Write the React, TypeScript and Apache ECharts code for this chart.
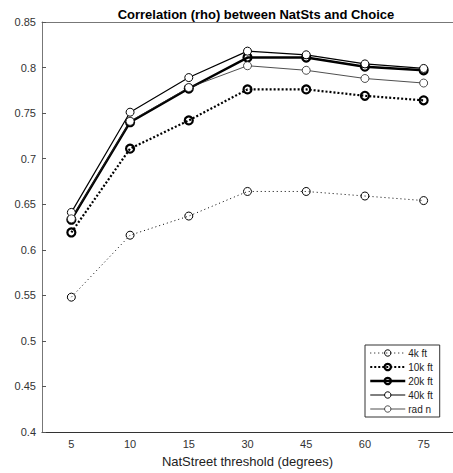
import React, { useEffect, useRef } from "react";
import * as echarts from "echarts";

const categories = ["5", "10", "15", "30", "45", "60", "75"];
const s4k = [0.548, 0.616, 0.637, 0.664, 0.664, 0.659, 0.654];
const s10k = [0.619, 0.711, 0.742, 0.776, 0.776, 0.769, 0.764];
const s20k = [0.633, 0.740, 0.777, 0.811, 0.811, 0.801, 0.797];
const s40k = [0.641, 0.751, 0.789, 0.818, 0.814, 0.804, 0.799];
const sRadN = [0.634, 0.741, 0.778, 0.802, 0.797, 0.788, 0.783];
const seriesNames = ["4k ft", "10k ft", "20k ft", "40k ft", "rad n"];

export default function App() {
  const ref = useRef<HTMLDivElement>(null);
  useEffect(() => {
    if (!ref.current) return;
    const chart = echarts.init(ref.current, null, { renderer: "svg" });
    const font = "Liberation Sans, Arial, Helvetica, sans-serif";
    const styles = [
      { width: 1, type: [1, 3], border: 1, fill: "rgba(255,255,255,0)", color: "#000" },
      { width: 2.2, type: [2, 2], border: 2.2, fill: "rgba(255,255,255,0)", color: "#000" },
      { width: 2.5, type: "solid", border: 2.2, fill: "rgba(255,255,255,0)", color: "#000" },
      { width: 1.2, type: "solid", border: 1, fill: "#fff", color: "#000" },
      { width: 0.8, type: "solid", border: 0.8, fill: "#fff", color: "#222" },
    ];
    const datas = [s4k, s10k, s20k, s40k, sRadN];
    chart.setOption({
      animation: false,
      backgroundColor: "#fff",
      textStyle: { fontFamily: font },
      title: {
        text: "Correlation (rho) between NatSts and Choice",
        left: 251,
        top: 3,
        textAlign: "center",
        textStyle: { fontSize: 13, fontWeight: "bold", color: "#000", fontFamily: font },
      },
      legend: {
        orient: "vertical",
        left: 365,
        top: 345,
        padding: [3, 7, 3, 4],
        itemWidth: 35,
        itemHeight: 8,
        itemGap: 4,
        borderColor: "#333",
        borderWidth: 1,
        backgroundColor: "#fff",
        textStyle: { fontSize: 10, color: "#222", fontFamily: font, padding: [0, 0, 0, -2] },
        data: seriesNames.map((n, i) => ({
          name: n,
          lineStyle: { width: styles[i].width, type: styles[i].type, color: styles[i].color },
          itemStyle: {
            color: styles[i].fill,
            borderColor: styles[i].color,
            borderWidth: styles[i].border,
          },
        })),
      },
      grid: { left: 42, top: 22, width: 419, height: 413 },
      xAxis: [
        {
          type: "category",
          data: categories,
          boundaryGap: true,
          position: "bottom",
          name: "NatStreet threshold (degrees)",
          nameLocation: "middle",
          nameGap: 23,
          nameTextStyle: { fontSize: 13, color: "#222", fontFamily: font },
          axisLine: { lineStyle: { color: "#333", width: 1 } },
          axisTick: { inside: true, alignWithLabel: true, length: 4, lineStyle: { color: "#333" } },
          axisLabel: { fontSize: 11, color: "#333", margin: 6, fontFamily: font },
          splitLine: { show: false },
        },
        {
          type: "category",
          data: categories,
          boundaryGap: true,
          position: "top",
          axisLine: { lineStyle: { color: "#777", width: 1 } },
          axisTick: { inside: true, alignWithLabel: true, length: 4, lineStyle: { color: "#555" } },
          axisLabel: { show: false },
          splitLine: { show: false },
        },
      ],
      yAxis: {
        type: "value",
        min: 0.4,
        max: 0.85,
        interval: 0.05,
        axisLine: { show: true, lineStyle: { color: "#777", width: 1 } },
        axisTick: { show: true, inside: true, length: 4, lineStyle: { color: "#555" } },
        axisLabel: {
          fontSize: 11,
          color: "#333",
          margin: 6,
          fontFamily: font,
          formatter: (v: number) => String(+v.toFixed(2)),
        },
        splitLine: { show: false },
      },
      series: seriesNames.map((n, i) => ({
        name: n,
        type: "line",
        data: datas[i],
        symbol: "circle",
        symbolSize: 8,
        lineStyle: { color: styles[i].color, width: styles[i].width, type: styles[i].type },
        itemStyle: {
          color: styles[i].fill,
          borderColor: styles[i].color,
          borderWidth: styles[i].border,
        },
        emphasis: { disabled: true },
      })),
    });
    return () => chart.dispose();
  }, []);
  return (
    <div
      ref={ref}
      style={{ position: "fixed", left: 0, top: 0, width: 453, height: 473 }}
    />
  );
}
